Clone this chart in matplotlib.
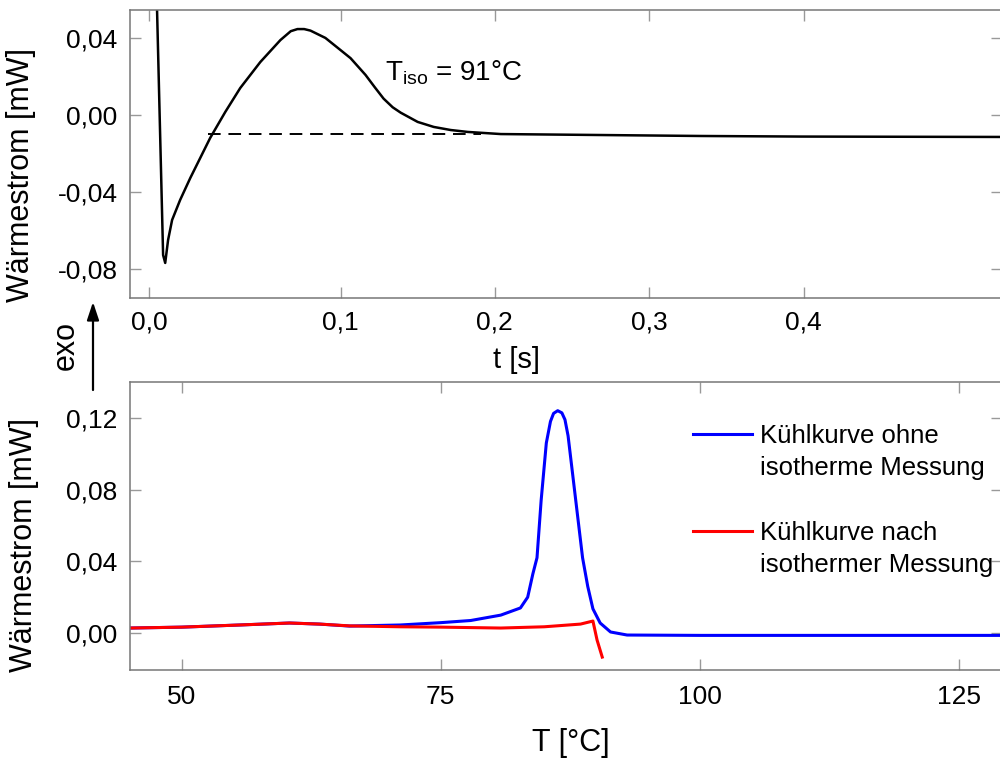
import numpy as np
import matplotlib
matplotlib.use("Agg")
import matplotlib.pyplot as plt
from matplotlib.lines import Line2D
from matplotlib.patches import FancyArrowPatch
from matplotlib.ticker import FixedLocator, FuncFormatter

plt.rcParams["font.family"] = ["Liberation Sans", "DejaVu Sans"]
plt.rcParams["mathtext.fontset"] = "custom"
plt.rcParams["mathtext.rm"] = "Liberation Sans"

# top panel: isotherm at 91 C, heat flow over time
t_iso = [0.0035, 0.0073, 0.0084, 0.0099, 0.0120, 0.0162, 0.0215, 0.0267, 0.0319,
         0.0398, 0.0476, 0.0581, 0.0686, 0.0740, 0.0775, 0.0810, 0.0843, 0.0921,
         0.1000, 0.1065, 0.1162, 0.1221, 0.1279, 0.1338, 0.1390, 0.1500, 0.1604,
         0.1714, 0.1825, 0.2039, 0.2688, 0.3338, 0.3987, 0.5286]
q_iso = [0.0800, -0.0727, -0.0768, -0.0649, -0.0545, -0.0441, -0.0327, -0.0223, -0.0119,
         0.0016, 0.0140, 0.0275, 0.0389, 0.0435, 0.0446, 0.0446, 0.0438, 0.0400,
         0.0337, 0.0295, 0.0208, 0.0145, 0.0085, 0.0040, 0.0012, -0.0036, -0.0062,
         -0.0078, -0.0088, -0.0099, -0.0104, -0.0109, -0.0112, -0.0114]
base_t = [0.031, 0.191]
base_q = [-0.010, -0.010]

# bottom panel: cooling curves
T_ohne = [45.0, 50.0, 55.6, 60.4, 63.3, 66.2, 71.1, 75.0, 77.9, 80.8, 82.7, 83.4,
          83.9, 84.3, 84.7, 85.2, 85.6, 85.9, 86.3, 86.7, 87.0, 87.3, 88.0, 88.7,
          89.2, 89.7, 90.4, 91.4, 93.0, 100.1, 129.2]
q_ohne = [0.0028, 0.0033, 0.0045, 0.0056, 0.0050, 0.0039, 0.0045, 0.0058, 0.0070, 0.0100,
          0.0140, 0.0200, 0.0330, 0.0420, 0.0740, 0.1060, 0.1180, 0.1225, 0.1240, 0.1228,
          0.1190, 0.1100, 0.0760, 0.0420, 0.0260, 0.0135, 0.0056, 0.0006, -0.0011,
          -0.0013, -0.0013]
T_nach = [45.0, 50.0, 55.6, 60.4, 63.3, 66.2, 71.1, 75.0, 80.8, 85.0, 88.5, 89.7, 90.1, 90.6]
q_nach = [0.0028, 0.0033, 0.0045, 0.0056, 0.0050, 0.0040, 0.0035, 0.0033, 0.0028, 0.0035,
          0.0050, 0.0067, -0.0039, -0.0134]

labels_legend = ["Kühlkurve ohne", "isotherme Messung", " ", "Kühlkurve nach", "isothermer Messung"]


# the time axis of the original is stretched between 0,0 and 0,1
def fwd(t):
    t = np.asarray(t, dtype=float)
    return np.where(t < 0.1, 0.1 + (t - 0.1) * 1.24, t)


def inv(u):
    u = np.asarray(u, dtype=float)
    return np.where(u < 0.1, 0.1 + (u - 0.1) / 1.24, u)


def comma(fmt):
    return FuncFormatter(lambda v, pos: format(v, fmt).replace(".", ","))


def style_axes(ax, xpad):
    for s in ax.spines.values():
        s.set_color("#777777")
        s.set_linewidth(1.1)
    ax.tick_params(direction="in", length=8, width=1, color="#999999",
                   top=True, right=True, labelsize=19)
    ax.tick_params(axis="x", pad=xpad)
    ax.tick_params(axis="y", pad=9)


fig = plt.figure(figsize=(10, 7.6), dpi=100)
ax1 = fig.add_axes([0.13, 1 - 298 / 760, 0.872, 288 / 760])
ax2 = fig.add_axes([0.13, 1 - 670 / 760, 0.872, 288 / 760])

# top
ax1.set_xscale("function", functions=(fwd, inv))
ax1.plot(t_iso, q_iso, color="black", lw=1.8)
ax1.plot(base_t, base_q, color="black", lw=1.4, ls=(0, (6.5, 4)))
ax1.set_xlim(-0.01, 0.5286)
ax1.set_ylim(-0.095, 0.0545)
ax1.xaxis.set_major_locator(FixedLocator([0.0, 0.1, 0.2, 0.3, 0.4]))
ax1.xaxis.set_minor_locator(FixedLocator([]))
ax1.xaxis.set_major_formatter(comma(".1f"))
ax1.yaxis.set_major_locator(FixedLocator([-0.08, -0.04, 0.0, 0.04]))
ax1.yaxis.set_major_formatter(comma(".2f"))
style_axes(ax1, 9)
ax1.set_xlabel("t [s]", fontsize=21)
ax1.xaxis.set_label_coords(0.443, -0.165)
ax1.set_ylabel("Wärmestrom [mW]", fontsize=22)
ax1.yaxis.set_label_coords(-0.108, 0.427)
ax1.text(0.292, 0.757, r"T$_{\rm iso}$ = 91°C", transform=ax1.transAxes,
         fontsize=20, ha="left", va="baseline")

# bottom
ax2.plot(T_ohne, q_ohne, color="#0000ff", lw=2.2)
ax2.plot(T_nach, q_nach, color="#ff0000", lw=2.2)
ax2.set_xlim(45, 129.2)
ax2.set_ylim(-0.0206, 0.14)
ax2.xaxis.set_major_locator(FixedLocator([50, 75, 100, 125]))
ax2.xaxis.set_major_formatter(comma(".0f"))
ax2.yaxis.set_major_locator(FixedLocator([0.0, 0.04, 0.08, 0.12]))
ax2.yaxis.set_major_formatter(comma(".2f"))
style_axes(ax2, 11)
ax2.set_xlabel("T [°C]", fontsize=22)
ax2.xaxis.set_label_coords(0.505, -0.2)
ax2.set_ylabel("Wärmestrom [mW]", fontsize=22)
ax2.yaxis.set_label_coords(-0.104, 0.434)

handles = [Line2D([], [], color="#0000ff", lw=2.2),
           Line2D([], [], color="none"),
           Line2D([], [], color="none"),
           Line2D([], [], color="#ff0000", lw=2.2),
           Line2D([], [], color="none")]
fig.legend(handles, labels_legend, loc="upper left", bbox_to_anchor=(0.693, 1 - 424 / 760),
           frameon=False, fontsize=18.5, handlelength=2.3, handletextpad=0.3,
           labelspacing=0.32, borderpad=0, borderaxespad=0)

# exo arrow between the panels
fig.text(0.066, 1 - 346 / 760, "exo", rotation=90, ha="center", va="center", fontsize=22)
fig.add_artist(FancyArrowPatch(
    (0.093, 1 - 390 / 760), (0.093, 1 - 302 / 760), transform=fig.transFigure,
    arrowstyle="-|>,head_length=0.9,head_width=0.3", lw=1.6, color="black",
    mutation_scale=12, shrinkA=0, shrinkB=0))

fig.savefig("out.png", dpi=100)
